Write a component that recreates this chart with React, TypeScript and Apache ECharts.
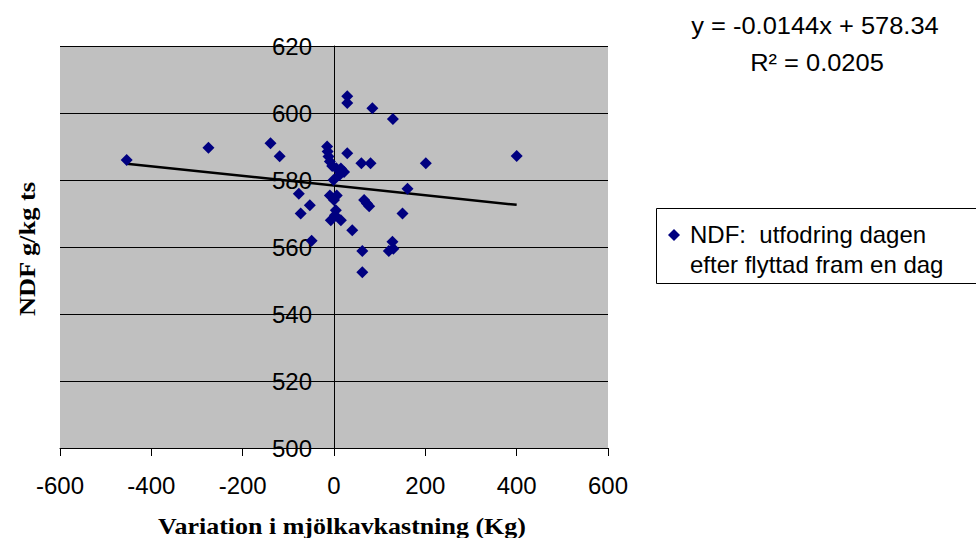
import React, { useEffect, useRef } from "react";
import * as echarts from "echarts";

// Milk yield variation (kg) vs NDF (g/kg DM)
const variationKg: number[] = [
  29, 29, 84, 129,
  -454, -275, -139, -119,
  -15, -14, -12, -9, -4, 5, 15, 22, 12, -1,
  29, 60, 80, 201, 400, 161,
  -77, -53, -73, -9, 6, 0, 66, 72, 77, 150,
  4, -7, 15, 2, 40, -49, 62, 62, 128, 120, 130,
];
const ndfValues: number[] = [
  605, 603, 601.4, 598.2,
  586, 589.6, 591, 587.1,
  590, 588.5, 587, 585.5, 584.2, 583.5, 583.4, 582.4, 581.5, 580,
  588, 585, 585, 585, 587.2, 577.4,
  575.9, 572.5, 570, 575.4, 575.4, 574, 574, 573, 572.2, 570,
  571, 568, 568, 569.5, 565, 561.9, 558.8, 552.5, 561.6, 558.8, 559.5,
];

const xTicks = { min: -600, max: 600, step: 200 };
const yTicks = { min: 500, max: 620, step: 20 };

// Linear trend line
const trendSlope = -0.0144;
const trendIntercept = 578.34;
const trendR2 = 0.0205;

const seriesName = "NDF:  utfodring dagen";
const seriesName2 = "efter flyttad fram en dag";
const xTitle = "Variation i mjölkavkastning (Kg)";
const yTitle = "NDF g/kg ts";

const SANS = "'Liberation Sans', Arial, sans-serif";
const SERIF = "'Liberation Serif', 'Times New Roman', serif";

const GRID_LEFT = 60;
const GRID_WIDTH = 548;

export default function App() {
  const ref = useRef<HTMLDivElement>(null);

  useEffect(() => {
    if (!ref.current) return;
    const chart = echarts.init(ref.current, undefined, { renderer: "svg" });

    const points = variationKg.map((x, i) => [x, ndfValues[i]]);
    const xMin = Math.min(...variationKg);
    const xMax = Math.max(...variationKg);
    const trend = [
      [xMin, trendSlope * xMin + trendIntercept],
      [xMax, trendSlope * xMax + trendIntercept],
    ];
    const eqText =
      "y = " + trendSlope.toFixed(4) + "x + " + trendIntercept.toFixed(2);

    // shift the value axis (line, ticks and labels) so it crosses at x = 0
    const zeroOffset =
      -GRID_WIDTH * ((0 - xTicks.min) / (xTicks.max - xTicks.min));

    chart.setOption({
      animation: false,
      backgroundColor: "#ffffff",
      grid: {
        left: GRID_LEFT,
        top: 46,
        width: GRID_WIDTH,
        height: 402,
        show: true,
        backgroundColor: "#c0c0c0",
        borderWidth: 0,
      },
      xAxis: {
        type: "value",
        min: xTicks.min,
        max: xTicks.max,
        interval: xTicks.step,
        axisLine: { onZero: false, lineStyle: { color: "#000", width: 1 } },
        axisTick: { show: true, length: 8, inside: false, lineStyle: { color: "#000" } },
        axisLabel: {
          margin: 25,
          fontFamily: SANS,
          fontSize: 24,
          color: "#000",
        },
        splitLine: { show: false },
      },
      yAxis: {
        type: "value",
        position: "left",
        offset: zeroOffset,
        min: yTicks.min,
        max: yTicks.max,
        interval: yTicks.step,
        axisLine: { show: true, onZero: false, lineStyle: { color: "#000", width: 1 } },
        axisTick: { show: true, length: 9, inside: false, lineStyle: { color: "#000" } },
        axisLabel: {
          margin: 22,
          fontFamily: SANS,
          fontSize: 24,
          color: "#000",
        },
        splitLine: { show: true, lineStyle: { color: "#000", width: 1 } },
      },
      series: [
        {
          name: seriesName,
          type: "scatter",
          data: points,
          symbol: "diamond",
          symbolSize: 12,
          itemStyle: { color: "#000080", opacity: 1 },
          z: 3,
        },
        {
          name: "trend",
          type: "line",
          data: trend,
          showSymbol: false,
          symbol: "none",
          lineStyle: { color: "#000", width: 2.5 },
          z: 2,
        },
      ],
      graphic: [
        {
          type: "text",
          x: 815,
          y: 26,
          scaleX: 1.06,
          style: {
            text: eqText,
            fontFamily: SANS,
            fontSize: 24,
            fill: "#000",
            align: "center",
            verticalAlign: "middle",
            textAlign: "center",
            textVerticalAlign: "middle",
          },
        },
        {
          type: "text",
          x: 817,
          y: 63,
          scaleX: 1.06,
          style: {
            text: "R² = " + trendR2.toFixed(4),
            fontFamily: SANS,
            fontSize: 24,
            fill: "#000",
            align: "center",
            verticalAlign: "middle",
            textAlign: "center",
            textVerticalAlign: "middle",
          },
        },
        {
          type: "rect",
          shape: { x: 656.5, y: 208.5, width: 330, height: 75 },
          style: { fill: "#ffffff", stroke: "#000", lineWidth: 1 },
        },
        {
          type: "polygon",
          shape: {
            points: [
              [674, 229],
              [680, 235],
              [674, 241],
              [668, 235],
            ],
          },
          style: { fill: "#000080" },
        },
        {
          type: "text",
          x: 690,
          y: 234,
          style: {
            text: seriesName,
            fontFamily: SANS,
            fontSize: 24,
            fill: "#000",
            align: "left",
            verticalAlign: "middle",
            textAlign: "left",
            textVerticalAlign: "middle",
          },
        },
        {
          type: "text",
          x: 690,
          y: 264,
          style: {
            text: seriesName2,
            fontFamily: SANS,
            fontSize: 24,
            fill: "#000",
            align: "left",
            verticalAlign: "middle",
            textAlign: "left",
            textVerticalAlign: "middle",
          },
        },
        {
          type: "text",
          x: 342,
          y: 526,
          scaleX: 1.13,
          style: {
            text: xTitle,
            fontFamily: SERIF,
            fontWeight: "bold",
            fontSize: 23,
            fill: "#000",
            align: "center",
            verticalAlign: "middle",
            textAlign: "center",
            textVerticalAlign: "middle",
          },
        },
        {
          type: "text",
          x: 27,
          y: 249,
          rotation: Math.PI / 2,
          scaleX: 1.15,
          style: {
            text: yTitle,
            fontFamily: SERIF,
            fontWeight: "bold",
            fontSize: 23,
            fill: "#000",
            align: "center",
            verticalAlign: "middle",
            textAlign: "center",
            textVerticalAlign: "middle",
          },
        },
      ],
    });

    return () => chart.dispose();
  }, []);

  return (
    <div
      ref={ref}
      style={{ position: "fixed", left: 0, top: 0, width: 976, height: 538 }}
    />
  );
}
